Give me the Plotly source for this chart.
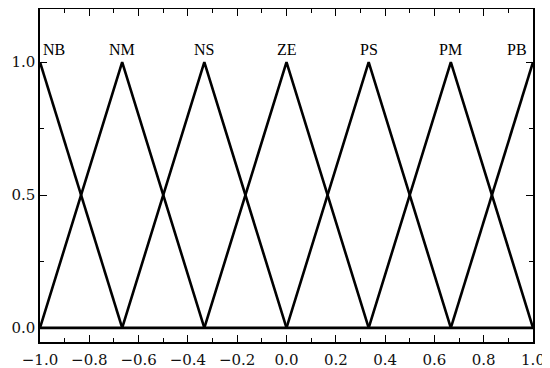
import plotly.graph_objects as go

# fuzzy set labels and their triangle centres
labels = ["NB", "NM", "NS", "ZE", "PS", "PM", "PB"]
centers = [-1.0, -2/3, -1/3, 0.0, 1/3, 2/3, 1.0]
half_width = 1/3
x_ticks = [-1.0, -0.8, -0.6, -0.4, -0.2, 0.0, 0.2, 0.4, 0.6, 0.8, 1.0]
y_ticks = [0.0, 0.5, 1.0]

fig = go.Figure()

for c in centers:
    xs = [max(c - half_width, -1.0), c, min(c + half_width, 1.0)]
    ys = [0 if xs[0] != c else 1, 1, 0 if xs[2] != c else 1]
    fig.add_trace(go.Scatter(x=xs, y=ys, mode="lines",
                             line=dict(color="black", width=2.6),
                             showlegend=False, hoverinfo="skip"))

# base line at zero membership
fig.add_trace(go.Scatter(x=[-1, 1], y=[0, 0], mode="lines",
                         line=dict(color="black", width=2.6),
                         showlegend=False, hoverinfo="skip"))

for lab, c in zip(labels, centers):
    anchor = "center"
    shift = 0
    if c <= -1:
        anchor, shift = "left", 1
    elif c >= 1:
        anchor, shift = "right", -4
    fig.add_annotation(x=c, y=1.0, text=lab, showarrow=False,
                       xanchor=anchor, yanchor="bottom", xshift=shift, yshift=2,
                       font=dict(family="Liberation Serif, Times New Roman, serif", size=16, color="black"))

axis_font = dict(family="DejaVu Serif, serif", size=15, color="#111")

# the page body adds an 8px offset, so the figure is sized to fit what's left
fig.update_layout(
    width=542, height=360,
    margin=dict(l=32, r=17, t=1, b=26, autoexpand=False),
    paper_bgcolor="white", plot_bgcolor="white",
    xaxis=dict(
        range=[-1, 1], tickmode="array", tickvals=x_ticks,
        ticktext=[f"{v:.1f}".replace("-", "\u2212") for v in x_ticks],
        ticks="inside", ticklen=7, tickwidth=1.2, tickcolor="black",
        minor=dict(dtick=0.1, tick0=-1, ticks="inside", ticklen=4, tickwidth=1.2, tickcolor="black"),
        showline=True, linecolor="black", linewidth=1.5, mirror="allticks",
        showgrid=False, zeroline=False, tickfont=axis_font, automargin=False,
        ticklabelstandoff=3,
    ),
    yaxis=dict(
        range=[-0.053, 1.2], tickmode="array", tickvals=y_ticks,
        ticktext=[f"{v:.1f}" for v in y_ticks],
        ticks="inside", ticklen=7, tickwidth=1.2, tickcolor="black",
        minor=dict(dtick=0.25, tick0=0, ticks="inside", ticklen=4, tickwidth=1.2, tickcolor="black"),
        showline=True, linecolor="black", linewidth=1.5, mirror="allticks",
        showgrid=False, zeroline=False, tickfont=axis_font, automargin=False,
    ),
)

fig.write_html("out.html")
